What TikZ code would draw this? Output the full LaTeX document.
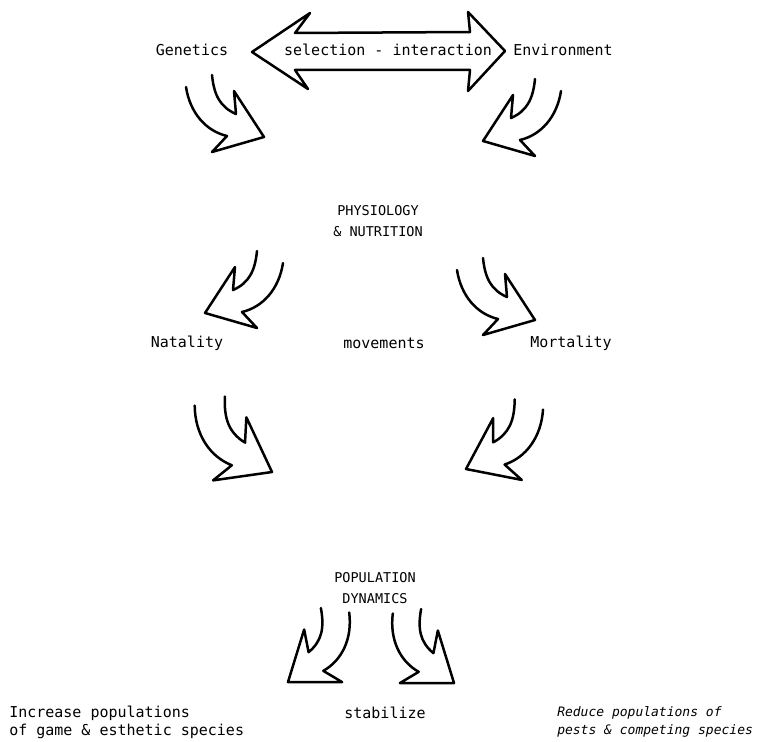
\documentclass[tikz,border=0pt]{standalone}
\usepackage{fontspec}
\setmonofont{DejaVu Sans Mono}

\tikzset{
  swoosh/.pic={
    \draw (52,-62) .. controls (50,-42) and (44,-30) .. (28,-23) -- (30,-46) -- (0,0)
      -- (52,15) -- (37,-1) .. controls (58,-6) and (74,-24) .. (78,-50);
  }
}

\begin{document}
\begin{tikzpicture}[x=1pt,y=-1pt,line width=2.5pt,line join=round,line cap=round]
\tikzstyle{every node}+=[inner sep=0pt,font=\ttfamily\fontsize{15}{18}\selectfont]
\tikzstyle{caps}=[font=\ttfamily\fontsize{13.5}{21}\selectfont,align=center]
\tikzstyle{note}=[font=\ttfamily\itshape\fontsize{13}{18}\selectfont,align=left,anchor=west]
\useasboundingbox (0,0) rectangle (773,741);
% top row
\node (genetics) at (192,50) {Genetics};
\node (select) at (388,50) {selection - interaction};
\node (environ) at (563,50) {Environment};
\draw (252,52) -- (310,13) -- (295,33) -- (470,32) -- (468,12) -- (505,51)
  -- (468,91) -- (470,70) -- (295,70) -- (308,89) -- cycle;
\pic[xscale=-1] at (264,137) {swoosh};
\pic at (483,141) {swoosh};
% middle
\node[caps] (physio) at (378,221) {PHYSIOLOGY\\\& NUTRITION};
\pic at (205,313) {swoosh};
\pic[xscale=-1] at (535,320) {swoosh};
\node (natal) at (187,343) {Natality};
\node (moves) at (384,343) {movements};
\node (mortal) at (571,343) {Mortality};
\pic[rotate=-8,xscale=-1,scale=1.1] at (272,472) {swoosh};
\pic[rotate=5,scale=1.05] at (466,469) {swoosh};
% bottom
\node[caps] (popdyn) at (375,588) {POPULATION\\DYNAMICS};
\pic[rotate=16] at (288,682) {swoosh};
\pic[rotate=-16,xscale=-1] at (454,683) {swoosh};
\node[align=left,anchor=west] (increase) at (8,722) {Increase populations\\of game \& esthetic species};
\node (stab) at (385,713) {stabilize};
\node[note] (reduce) at (556,722) {Reduce populations of\\pests \& competing species};
\end{tikzpicture}
\end{document}
